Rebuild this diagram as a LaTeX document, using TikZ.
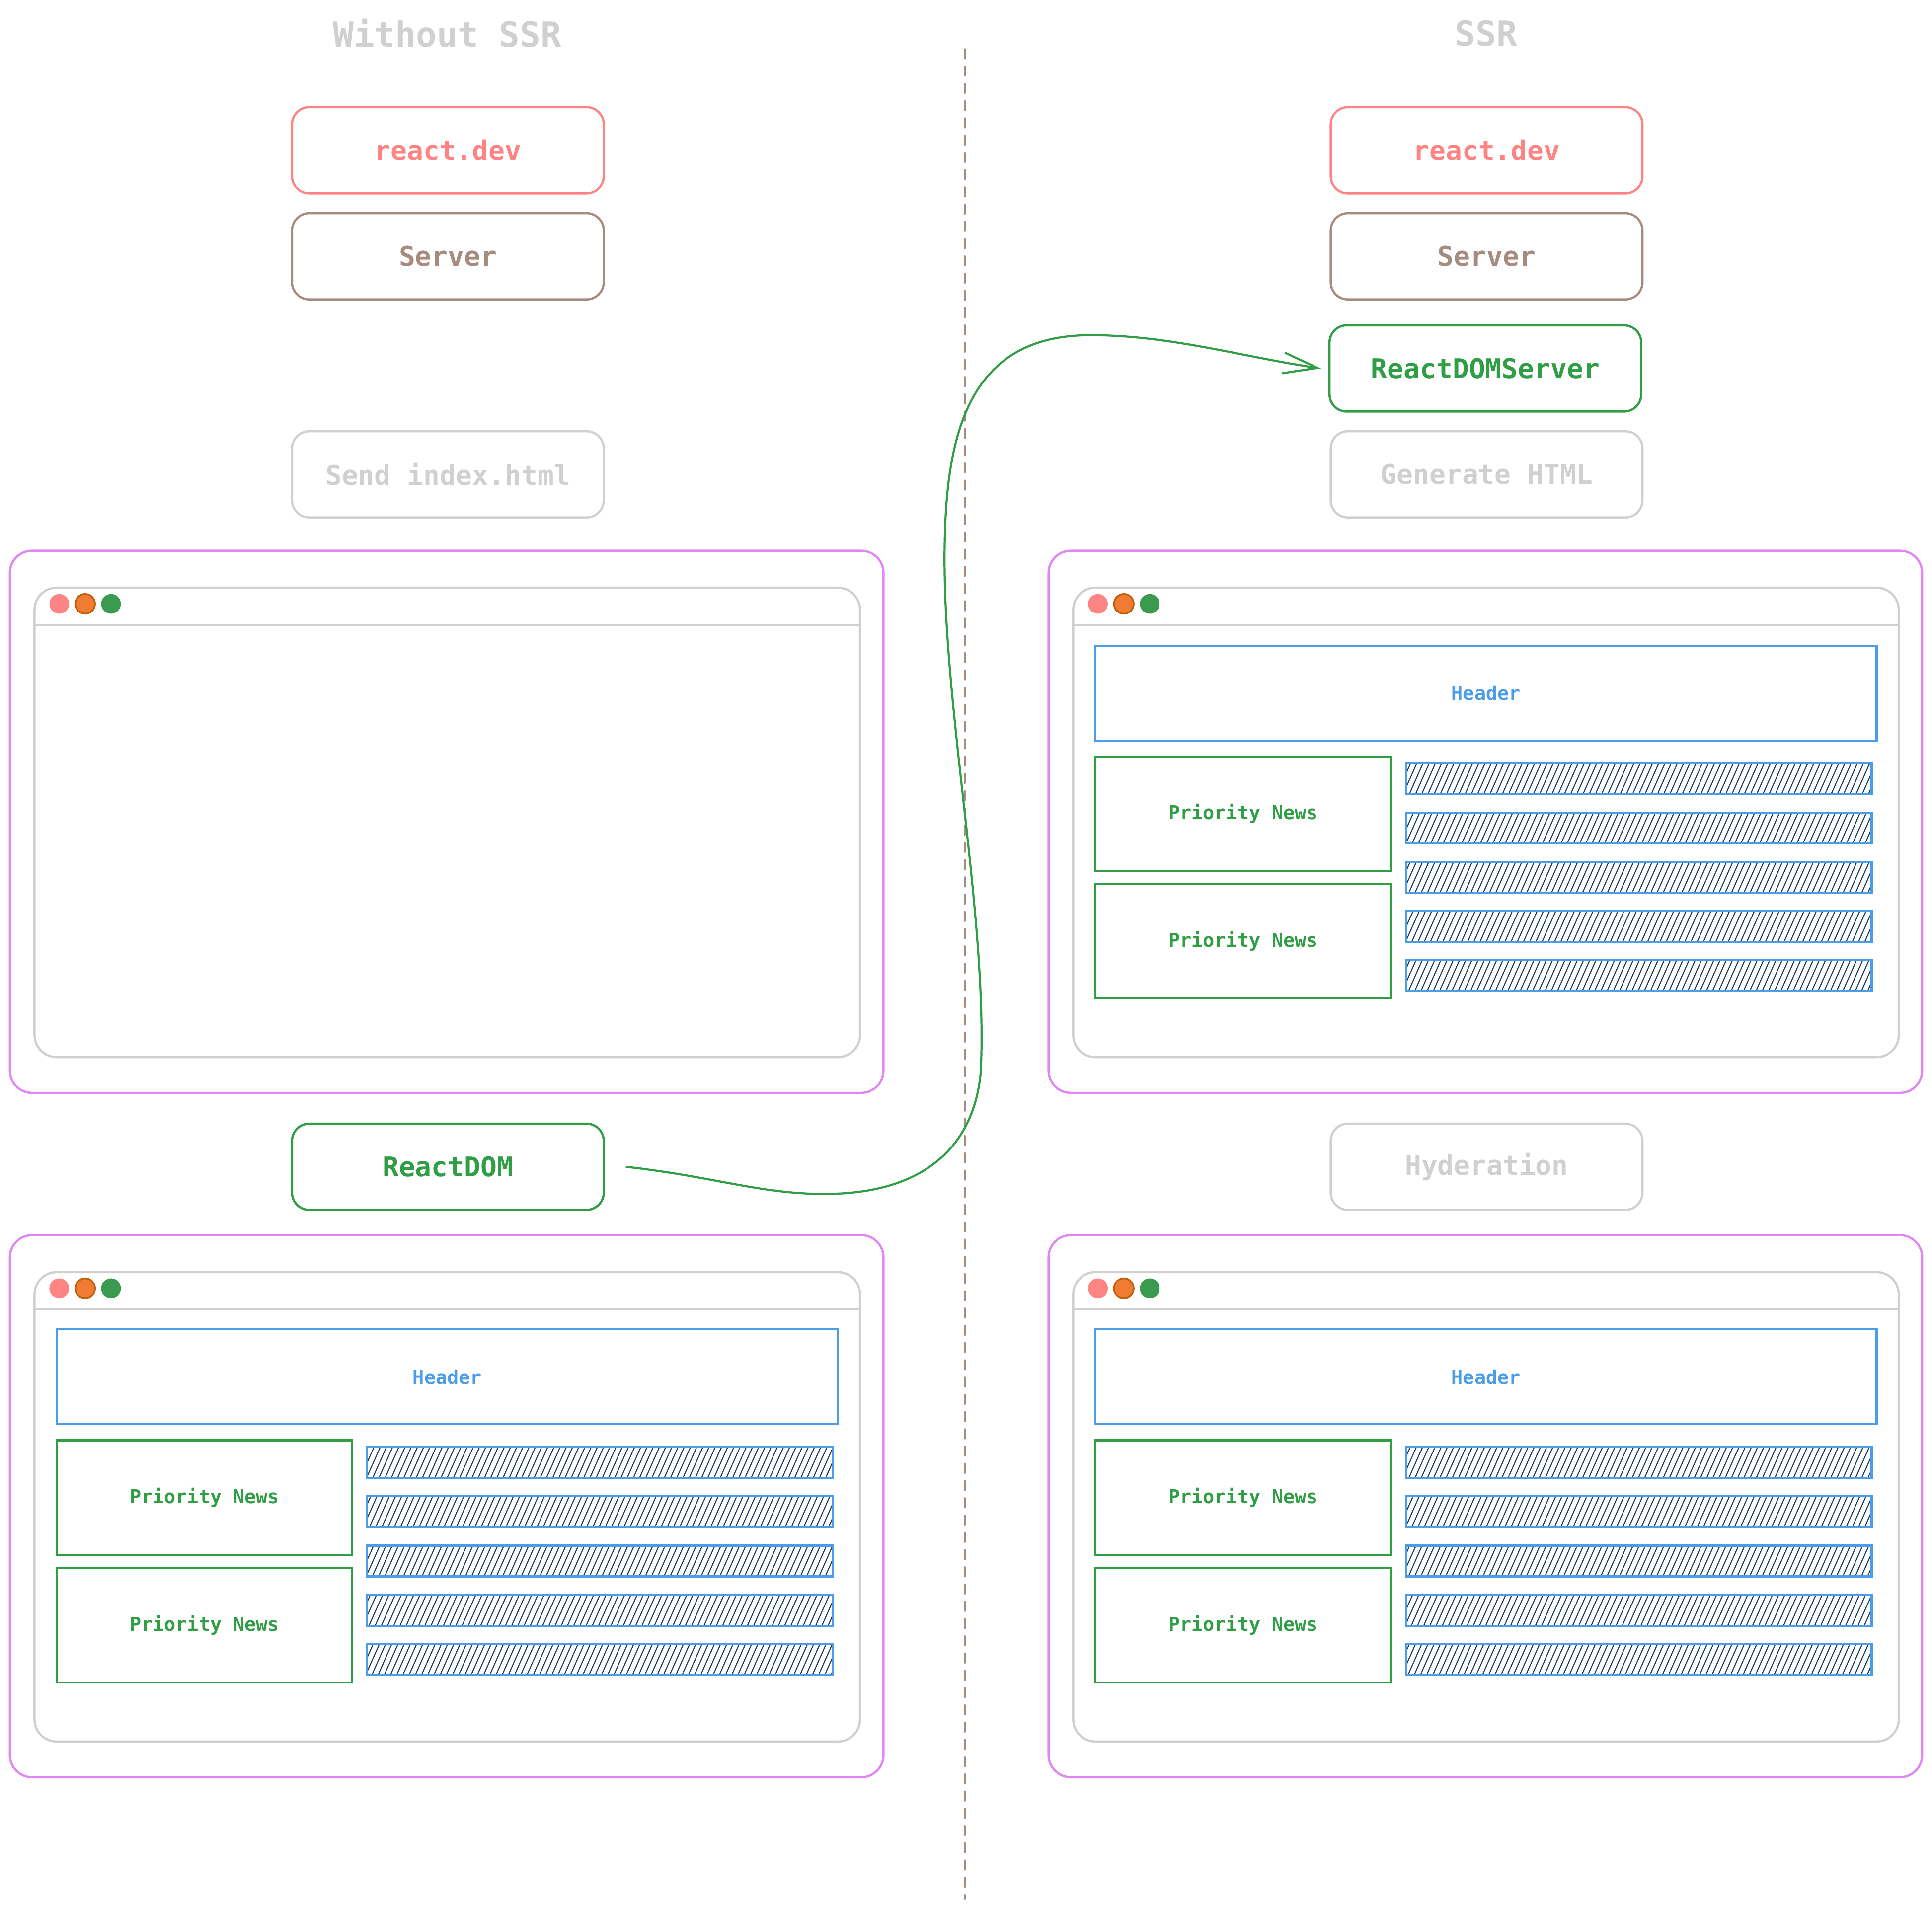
\documentclass[tikz,border=0pt]{standalone}
\usepackage{fontspec}
\setmonofont{DejaVu Sans Mono}
\usetikzlibrary{arrows.meta,patterns.meta}
\definecolor{cred}{HTML}{FF8383}
\definecolor{cbrown}{HTML}{A68B80}
\definecolor{cgreen}{HTML}{2F9E44}
\definecolor{cgray}{HTML}{D0D0D0}
\definecolor{cblue}{HTML}{4A9DE6}
\definecolor{cpurple}{HTML}{E087F5}
\definecolor{cnavy}{HTML}{1B3A5E}
\definecolor{corange}{HTML}{F07C34}
\definecolor{corangeline}{HTML}{C0600A}
\definecolor{cdotgreen}{HTML}{3A9A4E}
\definecolor{cdotred}{HTML}{FF8585}

\tikzset{
  lbl/.style={font=\ttfamily\bfseries\fontsize{22}{26}\selectfont},
  stepbox/.style={draw, line width=1.8pt, rounded corners=14pt, minimum width=253pt, minimum height=70pt, lbl},
  titletext/.style={font=\ttfamily\bfseries\fontsize{28}{32}\selectfont, text=cgray},
  outerwin/.style={draw=cpurple, line width=1.8pt, rounded corners=18pt, minimum width=709pt, minimum height=440pt},
  innerwin/.style={draw=cgray, line width=1.8pt, rounded corners=18pt, minimum width=670pt, minimum height=381pt},
  dot/.style={circle, minimum size=16pt, inner sep=0pt},
  hdr/.style={draw=cblue, line width=1.7pt, minimum width=634pt, minimum height=77pt, text=cblue, font=\ttfamily\bfseries\fontsize{15.5}{18}\selectfont},
  prio/.style={draw=cgreen, line width=1.7pt, minimum width=240pt, minimum height=93pt, text=cgreen, font=\ttfamily\bfseries\fontsize{15.5}{18}\selectfont},
  bar/.style={draw=cblue, line width=1.7pt, minimum width=378pt, minimum height=25pt, pattern={Lines[angle=66,distance=4.6pt,line width=0.85pt]}, pattern color=cnavy},
  flow/.style={cgreen, line width=1.7pt, -{Straight Barb[length=28pt,width=17pt,line width=1.7pt]}},
  divider/.style={cbrown, line width=1.5pt, dash pattern=on 7.5pt off 6.5pt, line cap=round},
}

\newcommand\browserwin[3]{%
  \node[outerwin] (#1out) at (#2,#3) {};
  \node[innerwin] (#1in) at (#2+0.5,#3+0.5) {};
  \draw[cgray, line width=1.8pt] ([yshift=-31pt]#1in.north west) -- ([yshift=-31pt]#1in.north east);
  \node[dot, fill=cdotred] (#1dr) at ([xshift=21pt,yshift=-14pt]#1in.north west) {};
  \node[dot, fill=corange, draw=corangeline, line width=1.4pt] (#1do) at ([xshift=42pt,yshift=-14pt]#1in.north west) {};
  \node[dot, fill=cdotgreen] (#1dg) at ([xshift=63pt,yshift=-14pt]#1in.north west) {};
}
\newcommand\pagecontent[3]{%
  \node[hdr] (#1hdr) at (363+#2,1117.5+#3) {Header};
  \node[prio] (#1pa) at (166+#2,1215.5+#3) {Priority News};
  \node[prio] (#1pb) at (166+#2,1319+#3) {Priority News};
  \foreach \k in {0,...,4}{
    \node[bar] (#1bar\k) at (487+#2,1187+40*\k+#3) {};
  }
}

\begin{document}
\begin{tikzpicture}[x=1pt,y=-1pt]
\useasboundingbox (0,0) rectangle (1568,1551);
\fill[white] (0,0) rectangle (1568,1551);

% titles
\node[titletext] (t1) at (363,27) {Without SSR};
\node[titletext] (t2) at (1206,27) {SSR};

% divider
\draw[divider] (783,40) -- (783,1541);

% left column
\node[stepbox, draw=cred, text=cred] (rdev1) at (363.5,122) {react.dev};
\node[stepbox, draw=cbrown, text=cbrown] (srv1) at (363.5,208) {Server};
\node[stepbox, draw=cgray, text=cgray] (send) at (363.5,385) {Send index.html};
\node[stepbox, draw=cgreen, text=cgreen] (rdom) at (363.5,947) {ReactDOM};

% right column
\node[stepbox, draw=cred, text=cred] (rdev2) at (1206.5,122) {react.dev};
\node[stepbox, draw=cbrown, text=cbrown] (srv2) at (1206.5,208) {Server};
\node[stepbox, draw=cgreen, text=cgreen] (rds) at (1205.5,299) {ReactDOMServer};
\node[stepbox, draw=cgray, text=cgray] (gen) at (1206.5,385) {Generate HTML};
\node[stepbox, draw=cgray, text=cgray] (hyd) at (1206.5,947) {Hyderation};

% browser windows
\browserwin{lt}{362.5}{667}
\browserwin{lb}{362.5}{1222.5}
\browserwin{rt}{1205.5}{667}
\browserwin{rb}{1205.5}{1222.5}

\pagecontent{lbp}{0}{0}
\pagecontent{rtp}{843}{-555}
\pagecontent{rbp}{843}{0}

% connector
\coordinate (as) at ([xshift=17pt]rdom.east);
\coordinate (ae) at ([xshift=-6pt]rds.west);
\draw[flow] (as) .. controls (580,955) and (620,970) .. (673,969)
  .. controls (745,968) and (790,935) .. (796,870)
  .. controls (802,740) and (762,560) .. (767,430)
  .. controls (770,330) and (800,272) .. (885,272)
  .. controls (950,272) and (1010,290) .. (ae);
\end{tikzpicture}
\end{document}
